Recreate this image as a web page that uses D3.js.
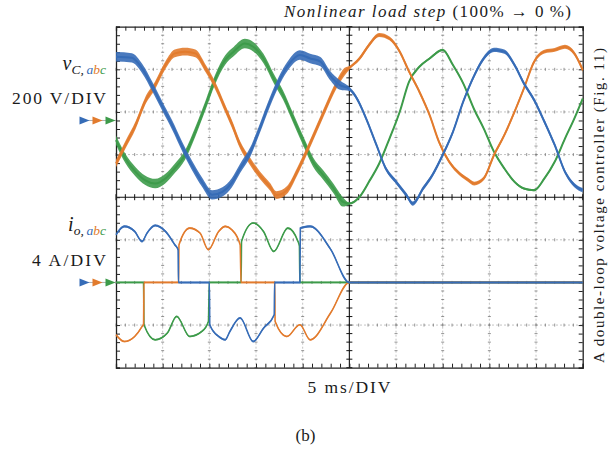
<!DOCTYPE html>
<html>
<head>
<meta charset="utf-8">
<script src="https://cdn.jsdelivr.net/npm/d3@7"></script>
<style>
  body { margin: 0; background: #fff; }
  text { font-family: "Liberation Serif", serif; fill: #1a1a1a; }
</style>
</head>
<body>
<div id="chart"></div>
<script>
// capacitor voltages (V), time in ms
const vaT = [0,1.7,2.8,3.9,5,6,7.1,8.1,9.2,10.3,11.4,12.4,13.3,14.4,15.4,16.5,17.6,18.6,19.7,20.8,21.9,22.9,24,25,25.7,26.8,27.9,28.9,30,31.1,31.8,32.9,33.9,35,36.1,37.2,38.4,39.4,40.5,41.6,42.7,43.7,44.8,45.9,47,48.1,49.1,50];
const vaV = [299,294,244,158,64,-20,-123,-208,-288,-349,-335,-293,-225,-147,-38,88,197,268,307,291,276,213,166,148,111,9,-115,-225,-288,-349,-390,-319,-256,-162,-53,88,213,291,331,323,260,174,96,-6,-115,-241,-303,-327];
const vbT = [0,1,2.1,3.1,4.2,5.3,6.3,7.4,8.5,9.6,10.6,11.7,12.4,13.3,14.4,15.4,16.5,17.2,18.3,19.4,20.4,21.5,22.6,23.6,24.5,25,26.1,27.1,28.2,29.3,30.4,31.4,32.5,33.6,34.6,35.7,36.8,37.7,38.4,39.4,40.5,41.6,42.7,43.7,44.8,45.9,47,48.1,49.1,50];
const vbV = [-202,-115,-22,88,166,260,315,323,315,244,166,56,-15,-115,-194,-256,-311,-350,-327,-241,-147,-38,72,166,229,247,291,354,401,385,323,229,135,25,-100,-194,-249,-278,-296,-272,-162,-69,41,150,276,323,331,346,315,237];
const vcT = [0,1,2.1,3.1,4.2,5.3,6.3,7.4,8.5,9.6,10.6,11.7,12.6,13.8,14.7,15.8,16.9,17.9,19,20.1,21.1,22.2,23.3,24.3,25,26.1,27.1,28.2,29.3,30.4,31.4,32.5,33.6,35,36.1,37.2,38.4,39.4,40.5,41.6,42.7,43.7,44.8,45.9,47,48.1,49.1,50];
const vcV = [-92,-178,-241,-280,-296,-272,-225,-162,-53,72,190,284,323,361,346,291,197,119,9,-100,-194,-256,-319,-382,-390,-358,-288,-202,-85,41,182,252,291,331,260,174,49,-38,-147,-225,-288,-319,-327,-272,-194,-85,9,103];

// output currents (A)
const iaT = [0,0.9,2.0,2.8,3.3,4.2,5.3,6.3,6.65,6.7,10.0,10.05,11.0,11.7,12.2,13.3,14.7,15.8,16.95,17.0,19.7,19.75,20.8,23.0,25.0,50];
const iaV = [4.48,5.26,4.79,3.85,4.6,5.35,4.79,3.54,3.07,0,0,-3.97,-5.07,-5.38,-4.6,-3.34,-5.54,-4.3,-3.03,0,0,5.1,5.26,3.1,0,0];
const ibT = [0,0.9,2.0,2.8,2.95,3.0,6.7,6.75,7.9,9.0,9.9,11.0,11.7,12.4,13.3,13.4,17.0,17.05,18.3,19.7,20.8,23.0,25.0,50];
const ibV = [-4.91,-5.54,-5.07,-4.13,-3.9,0,0,3.54,5.1,4.64,3.07,4.79,5.26,4.95,3.54,0,0,-3.66,-5.07,-3.97,-5.38,-2.85,0,0];
const icT = [0,2.95,3.0,4.2,5.5,6.5,7.9,9.2,9.9,10.0,13.4,13.45,14.7,15.8,16.9,18.4,19.5,19.65,19.7,50];
const icV = [0,0,-3.97,-5.38,-4.75,-3.19,-5.07,-4.6,-3.66,0,0,3.85,5.58,4.79,2.91,5.1,3.85,3.4,0,0];

// switching ripple, half band, phases a b c
const rippleBefore = [22, 18, 22];   // V, nonlinear load on
const rippleAfter = [10, 9, 5];      // V, no load
const rippleI = [0.1, 0.08, 0.08];   // A

const stepT = 25;
const colors = ["#366cb7", "#e27b2d", "#3d9b4a"];

const svg = d3.select("#chart").append("svg")
    .attr("width", 615)
    .attr("height", 450);

const x = d3.scaleLinear().domain([0, 50]).range([116, 582.7]);
const yDiv = d3.scaleLinear().domain([0, 8]).range([26.7, 367.7]);
const yV = d3.scaleLinear().domain([0, 200]).range([yDiv(2.2), yDiv(1.2)]);
const yI = d3.scaleLinear().domain([0, 4]).range([yDiv(6), yDiv(5)]);

// dotted grid
const grid = svg.append("g");
grid.selectAll(".gx").data(d3.range(5, 50, 5).filter(d => d !== 25)).enter().append("line")
    .attr("x1", d => x(d)).attr("x2", d => x(d))
    .attr("y1", yDiv(0)).attr("y2", yDiv(8))
    .attr("stroke", "#c4c4c4").attr("stroke-dasharray", "2,2");
grid.selectAll(".gy").data([1, 2, 3, 5, 6, 7]).enter().append("line")
    .attr("y1", d => yDiv(d)).attr("y2", d => yDiv(d))
    .attr("x1", x(0)).attr("x2", x(50))
    .attr("stroke", "#c4c4c4").attr("stroke-dasharray", "2,2");

// small ticks on the dotted grid
const minorT = d3.range(0, 50.01, 1);
const minorD = d3.range(0, 8.01, 0.2);
[1, 2, 3, 5, 6, 7].forEach(dv => {
  grid.append("g").selectAll("line").data(minorT).enter().append("line")
      .attr("x1", d => x(d)).attr("x2", d => x(d))
      .attr("y1", yDiv(dv) - 1.5).attr("y2", yDiv(dv) + 1.5)
      .attr("stroke", "#777").attr("stroke-width", 0.8);
});
d3.range(5, 50, 5).filter(d => d !== 25).forEach(tv => {
  grid.append("g").selectAll("line").data(minorD).enter().append("line")
      .attr("y1", d => yDiv(d)).attr("y2", d => yDiv(d))
      .attr("x1", x(tv) - 1.5).attr("x2", x(tv) + 1.5)
      .attr("stroke", "#777").attr("stroke-width", 0.8);
});

// centre axes with ticks on both sides
const axes = svg.append("g");
axes.append("line").attr("x1", x(stepT)).attr("x2", x(stepT))
    .attr("y1", yDiv(0)).attr("y2", yDiv(8)).attr("stroke", "#111").attr("stroke-width", 1.1);
axes.append("line").attr("y1", yDiv(4)).attr("y2", yDiv(4))
    .attr("x1", x(0)).attr("x2", x(50)).attr("stroke", "#111").attr("stroke-width", 1.1);
axes.append("g").selectAll("line").data(minorT).enter().append("line")
    .attr("x1", d => x(d)).attr("x2", d => x(d))
    .attr("y1", yDiv(4) - 3).attr("y2", yDiv(4) + 3).attr("stroke", "#111");
axes.append("g").selectAll("line").data(minorD).enter().append("line")
    .attr("y1", d => yDiv(d)).attr("y2", d => yDiv(d))
    .attr("x1", x(stepT) - 3).attr("x2", x(stepT) + 3).attr("stroke", "#111");

// frame with inward ticks
const frame = svg.append("g").attr("class", "frame");
frame.append("g").attr("transform", `translate(0,${yDiv(8)})`)
    .call(d3.axisBottom(x).ticks(50).tickSize(-4).tickFormat(""));
frame.append("g").attr("transform", `translate(0,${yDiv(0)})`)
    .call(d3.axisTop(x).ticks(50).tickSize(-4).tickFormat(""));
frame.append("g").attr("transform", `translate(${x(0)},0)`)
    .call(d3.axisLeft(yDiv).ticks(40).tickSize(-4).tickFormat(""));
frame.append("g").attr("transform", `translate(${x(50)},0)`)
    .call(d3.axisRight(yDiv).ticks(40).tickSize(-4).tickFormat(""));
frame.selectAll("path.domain").attr("stroke", "#222").attr("stroke-width", 1.3);
frame.selectAll(".tick line").attr("stroke", "#222");

// traces
const vSeries = [[vaT, vaV], [vbT, vbV], [vcT, vcV]];
const iSeries = [[iaT, iaV], [ibT, ibV], [icT, icV]];
const order = [2, 1, 0];

function pts(s) { return s[0].map((t, k) => ({t: t, v: s[1][k]})); }

const traces = svg.append("g");
order.forEach(p => {
  const d = pts(vSeries[p]);
  const r = t => t < stepT ? rippleBefore[p] : rippleAfter[p];
  traces.append("path").datum(d)
      .attr("fill", colors[p]).attr("opacity", 0.9)
      .attr("d", d3.area().curve(d3.curveMonotoneX)
          .x(e => x(e.t)).y0(e => yV(e.v - r(e.t))).y1(e => yV(e.v + r(e.t))));
  traces.append("path").datum(d)
      .attr("fill", "none").attr("stroke", colors[p]).attr("stroke-width", 2)
      .attr("d", d3.line().curve(d3.curveMonotoneX).x(e => x(e.t)).y(e => yV(e.v)));
});
order.forEach(p => {
  const d = pts(iSeries[p]);
  traces.append("path").datum(d)
      .attr("fill", colors[p]).attr("opacity", 0.9)
      .attr("d", d3.area().curve(d3.curveMonotoneX)
          .x(e => x(e.t)).y0(e => yI(e.v - rippleI[p])).y1(e => yI(e.v + rippleI[p])));
  traces.append("path").datum(d)
      .attr("fill", "none").attr("stroke", colors[p]).attr("stroke-width", 1.6)
      .attr("d", d3.line().curve(d3.curveMonotoneX).x(e => x(e.t)).y(e => yI(e.v)));
});

// ground markers
const markerX = [84.5, 97.5, 110.5];
[yV(0), yI(0)].forEach(gy => {
  svg.append("line").attr("x1", 80).attr("x2", 116).attr("y1", gy).attr("y2", gy)
      .attr("stroke", "#999").attr("stroke-width", 0.8);
  svg.append("g").selectAll("path").data(markerX).enter().append("path")
      .attr("d", "M-5,-4L5,0L-5,4Z")
      .attr("transform", d => `translate(${d},${gy})`)
      .attr("fill", (d, k) => colors[k]);
});

// labels
function sym(sel, main, sub) {
  sel.append("tspan").attr("font-style", "italic").attr("font-size", 20).text(main);
  sel.append("tspan").attr("font-style", "italic").attr("font-size", 13.5).attr("dy", 4).text(sub);
  ["a", "b", "c"].forEach((c, k) => {
    sel.append("tspan").attr("font-style", "italic").attr("font-size", 13.5)
        .attr("fill", colors[k]).text(c);
  });
}
sym(svg.append("text").attr("x", 106).attr("y", 70).attr("text-anchor", "end"), "v", "C,\u2009");
sym(svg.append("text").attr("x", 106).attr("y", 231).attr("text-anchor", "end"), "i", "o,\u2009");

svg.append("text").attr("x", 106).attr("y", 104).attr("text-anchor", "end")
    .attr("font-size", 17.5).attr("textLength", 94).text("200 V/DIV");
svg.append("text").attr("x", 106).attr("y", 266).attr("text-anchor", "end")
    .attr("font-size", 17.5).attr("textLength", 74).text("4 A/DIV");
svg.append("text").attr("x", 349).attr("y", 393).attr("text-anchor", "middle")
    .attr("font-size", 17.5).attr("textLength", 83).text("5 ms/DIV");
svg.append("text").attr("x", 305.5).attr("y", 441).attr("text-anchor", "middle")
    .attr("font-size", 17).text("(b)");

const title = svg.append("text").attr("x", 284).attr("y", 16.5)
    .attr("font-size", 17).attr("textLength", 287);
title.append("tspan").attr("font-style", "italic").text("Nonlinear load step");
title.append("tspan").text(" (100% \u2192 0\u2009%)");

svg.append("text")
    .attr("transform", "translate(603.5,205.5) rotate(-90)")
    .attr("text-anchor", "middle").attr("font-size", 15)
    .attr("textLength", 315)
    .text("A double-loop voltage controller (Fig. 11)");
</script>
</body>
</html>
